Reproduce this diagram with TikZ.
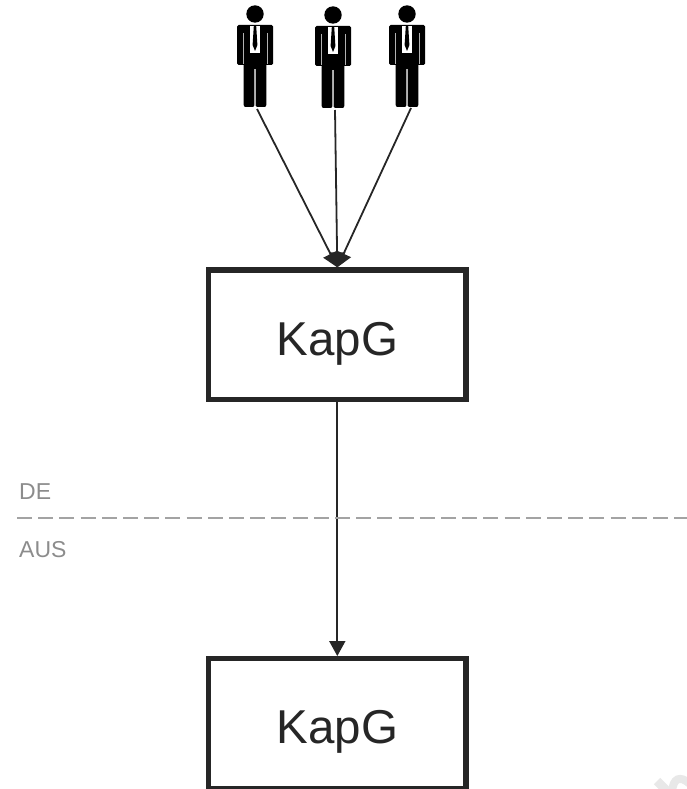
\documentclass[tikz,border=0pt]{standalone}
\usepackage{xcolor}
\usepackage{fontspec}
\setmainfont{Liberation Sans}
\usetikzlibrary{arrows.meta}
\definecolor{inkcol}{HTML}{262626}
\definecolor{bordercol}{HTML}{8C8C8C}
\tikzset{
  kapgbox/.style={draw=inkcol,line width=5.2pt,minimum width=257.5pt,minimum height=129.5pt,
    inner sep=0pt,text=inkcol,text height=41pt,text depth=0pt,font=\fontsize{47.5}{54}\selectfont},
  owns/.style={draw=inkcol,line width=1.8pt,-{Stealth[length=15pt,width=16pt,inset=0pt]}},
  border/.style={font=\fontsize{23}{26}\selectfont,text=bordercol,inner sep=0pt},
  person/.pic={
    \fill[black] (0,-43) circle (8.7);
    \fill[black,rounded corners=1.5pt] (-18,-32) rectangle (18,8);
    \fill[black,rounded corners=2pt] (-11.3,0) rectangle (-.6,50);
    \fill[black,rounded corners=2pt] (.6,0) rectangle (11.3,50);
    \fill[black] (-11.3,-32) rectangle (11.3,12);
    \fill[white] (-5,-31) rectangle (5,-4);
    \fill[black] (-1.2,-31) -- (1.2,-31) -- (2.4,-12) -- (0,-6) -- (-2.4,-12) -- cycle;
    \draw[white!70!black,line width=.6pt] (-12.2,-24) -- (-12.2,7);
    \draw[white!70!black,line width=.6pt] (12.2,-24) -- (12.2,7);
    \draw[white!70!black,line width=.8pt] (0,12) -- (0,49);
  }
}
\begin{document}
\begin{tikzpicture}[x=1pt,y=-1pt]
  \useasboundingbox (0,0) rectangle (687,789);
  \pic at (255,57) {person};
  \pic at (333,58) {person};
  \pic at (407,57) {person};
  \coordinate (mana) at (257,109);
  \coordinate (manb) at (335,110);
  \coordinate (manc) at (411,108);
  \node[kapgbox] (upper) at (337.3,334.7) {KapG};
  \node[kapgbox] (lower) at (337.3,723.4) {KapG};
  \foreach \m in {mana,manb,manc}
    \draw[owns] (\m) -- (upper.north);
  \draw[owns] (upper.south) -- (lower.north);
  \coordinate (borderl) at (17,518);
  \coordinate (borderr) at (687,518);
  \draw[bordercol!80,line width=1.8pt,dash pattern=on 15pt off 6.2pt] (borderl) -- (borderr);
  \node[border,anchor=base west] (de) at (19,499) {DE};
  \node[border,anchor=base west] (aus) at (19,557) {AUS};
  % mark in the corner
  \begin{scope}
    \clip (640,760) rectangle (687,789);
    \draw[black!9,line width=9pt] (657,781) -- (668,792);
    \draw[black!9,line width=8pt] (672,792) .. controls (673,778) and (680,775) .. (690,784);
  \end{scope}
\end{tikzpicture}
\end{document}
